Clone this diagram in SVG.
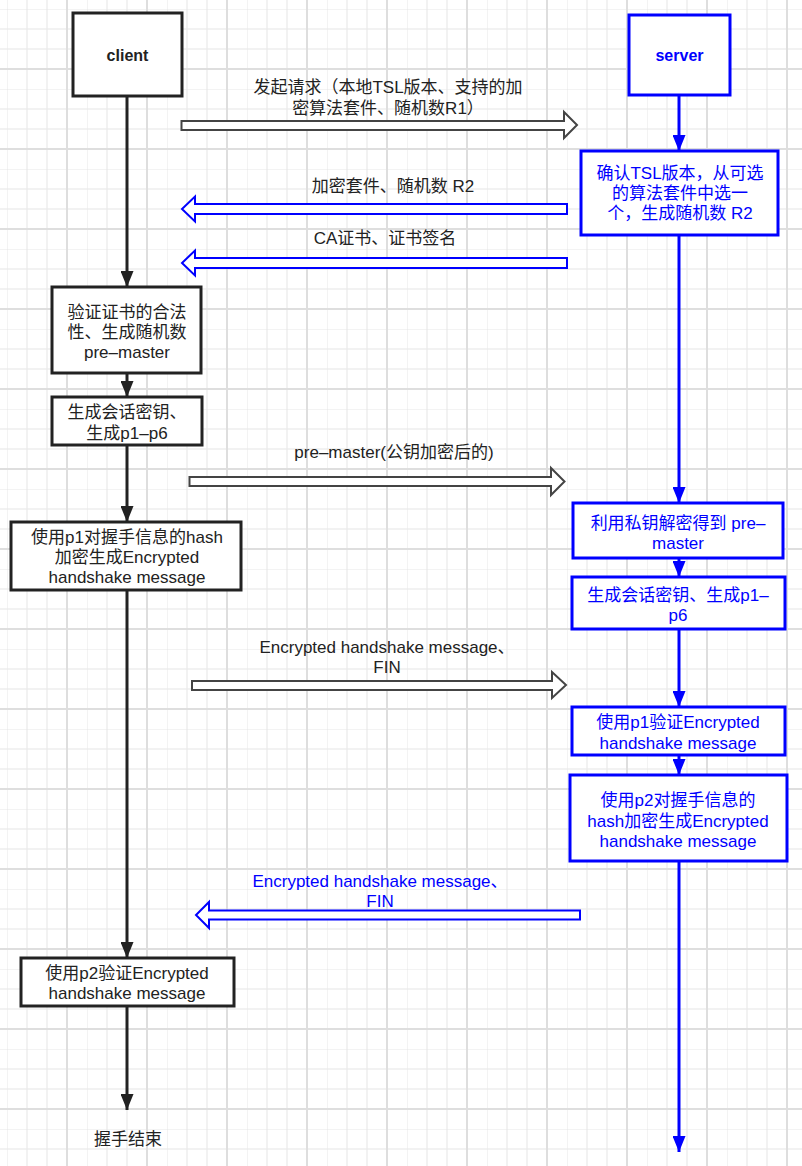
<svg xmlns="http://www.w3.org/2000/svg" width="802" height="1166" viewBox="0 0 802 1166">
<defs>
<pattern id="grid" patternUnits="userSpaceOnUse" x="7" y="9" width="80" height="80">
<rect x="-0.5" y="0" width="1" height="80" fill="#e6e6e6"/>
<rect x="19.5" y="0" width="1" height="80" fill="#e6e6e6"/>
<rect x="39.5" y="0" width="1" height="80" fill="#e6e6e6"/>
<rect x="0" y="-0.5" width="80" height="1" fill="#e6e6e6"/>
<rect x="0" y="19.5" width="80" height="1" fill="#e6e6e6"/>
<rect x="0" y="39.5" width="80" height="1" fill="#e6e6e6"/>
<rect x="59" y="0" width="2" height="80" fill="#dedede"/>
<rect x="0" y="59" width="80" height="2" fill="#dedede"/>
</pattern>
<marker id="ahk" markerUnits="userSpaceOnUse" viewBox="0 0 16 13" markerWidth="16" markerHeight="13" refX="16" refY="6.5" orient="auto">
<path d="M0,0 L16,6.5 L0,13 Z" fill="#222"/>
</marker>
<marker id="ahb" markerUnits="userSpaceOnUse" viewBox="0 0 16 13" markerWidth="16" markerHeight="13" refX="16" refY="6.5" orient="auto">
<path d="M0,0 L16,6.5 L0,13 Z" fill="#0000ff"/>
</marker>
</defs>
<style>
text{font-family:"Liberation Sans","Noto Sans CJK SC",sans-serif;font-size:17px;text-anchor:middle}
.tk{fill:#222}
.tb{fill:#0000ff}
.bold{font-weight:bold;font-size:16px}
.bk{fill:#fff;stroke:#222;stroke-width:3}
.bb{fill:#fff;stroke:#0000ff;stroke-width:3}
.lk{stroke:#222;stroke-width:3;fill:none;marker-end:url(#ahk)}
.lb{stroke:#0000ff;stroke-width:3;fill:none;marker-end:url(#ahb)}
.hk{fill:#fff;stroke:#444;stroke-width:2;stroke-linejoin:miter}
.hb{fill:#fff;stroke:#0000ff;stroke-width:2;stroke-linejoin:miter}
</style>
<rect x="0" y="0" width="802" height="1166" fill="#fff"/>
<rect x="0" y="0" width="802" height="1166" fill="url(#grid)"/>

<g id="connectors">
<line class="lk" x1="127" y1="96" x2="127" y2="287"/>
<line class="lk" x1="127" y1="373" x2="127" y2="397"/>
<line class="lk" x1="127" y1="445" x2="127" y2="522"/>
<line class="lk" x1="127" y1="590" x2="127" y2="958"/>
<line class="lk" x1="127" y1="1006" x2="127" y2="1110"/>
<line class="lb" x1="679" y1="95" x2="679" y2="151"/>
<line class="lb" x1="679" y1="235" x2="679" y2="503"/>
<line class="lb" x1="679" y1="558" x2="679" y2="577"/>
<line class="lb" x1="679" y1="629" x2="679" y2="707"/>
<line class="lb" x1="679" y1="755" x2="679" y2="775"/>
<line class="lb" x1="679" y1="861" x2="679" y2="1152"/>
<path class="hk" d="M181.5,121 L564,121 L564,112 L577,125 L564,138 L564,130 L181.5,130 Z"/>
<path class="hb" d="M567,204 L195,204 L195,196.5 L182,209 L195,221.5 L195,214 L567,214 Z"/>
<path class="hb" d="M567,258 L195,258 L195,250.5 L182,263 L195,275.5 L195,268 L567,268 Z"/>
<path class="hk" d="M189.5,477 L551,477 L551,468 L564.5,481.5 L551,495 L551,486 L189.5,486 Z"/>
<path class="hk" d="M192,681 L552,681 L552,672 L566,685 L552,698 L552,690 L192,690 Z"/>
<path class="hb" d="M580,910.5 L209,910.5 L209,902 L196,915 L209,928 L209,919.5 L580,919.5 Z"/>
<text class="tk" x="388" y="93">发起请求（本地TSL版本、支持的加</text>
<text class="tk" x="388" y="114">密算法套件、随机数R1）</text>
<text class="tk" x="393" y="192">加密套件、随机数 R2</text>
<text class="tk" x="385" y="244">CA证书、证书签名</text>
<text class="tk" x="394" y="458">pre–master(公钥加密后的)</text>
<text class="tk" x="387" y="653">Encrypted handshake message、</text>
<text class="tk" x="387" y="673">FIN</text>
<text class="tb" x="380" y="887">Encrypted handshake message、</text>
<text class="tb" x="380" y="907">FIN</text>
</g>

<g id="client">
<rect class="bk" x="73" y="13" width="109" height="83"/>
<text class="tk bold" x="127.5" y="61">client</text>
</g>
<g id="server">
<rect class="bb" x="629" y="15" width="101" height="80"/>
<text class="tb bold" x="679.5" y="61">server</text>
</g>
<g id="server-confirm">
<rect class="bb" x="581" y="151" width="197" height="84"/>
<text class="tb" x="680" y="179">确认TSL版本，从可选</text>
<text class="tb" x="680" y="199">的算法套件中选一</text>
<text class="tb" x="680" y="219">个，生成随机数 R2</text>
</g>
<g id="client-verify">
<rect class="bk" x="52" y="287" width="149" height="86"/>
<text class="tk" x="127" y="318">验证证书的合法</text>
<text class="tk" x="127" y="338">性、生成随机数</text>
<text class="tk" x="127" y="358">pre–master</text>
</g>
<g id="client-keys">
<rect class="bk" x="52" y="397" width="150" height="48"/>
<text class="tk" x="127" y="418">生成会话密钥、</text>
<text class="tk" x="127" y="439">生成p1–p6</text>
</g>
<g id="client-encrypt">
<rect class="bk" x="11" y="522" width="230" height="68"/>
<text class="tk" x="127" y="543">使用p1对握手信息的hash</text>
<text class="tk" x="127" y="563">加密生成Encrypted</text>
<text class="tk" x="127" y="583">handshake message</text>
</g>
<g id="client-verify2">
<rect class="bk" x="21" y="958" width="213" height="48"/>
<text class="tk" x="127" y="979">使用p2验证Encrypted</text>
<text class="tk" x="127" y="999">handshake message</text>
</g>
<g id="end">
<text class="tk" x="128" y="1145">握手结束</text>
</g>
<g id="server-decrypt">
<rect class="bb" x="573" y="503" width="210" height="55"/>
<text class="tb" x="678" y="529">利用私钥解密得到 pre–</text>
<text class="tb" x="678" y="549">master</text>
</g>
<g id="server-keys">
<rect class="bb" x="572" y="577" width="213" height="52"/>
<text class="tb" x="678" y="601">生成会话密钥、生成p1–</text>
<text class="tb" x="678" y="621">p6</text>
</g>
<g id="server-verify">
<rect class="bb" x="572" y="707" width="213" height="48"/>
<text class="tb" x="678" y="728">使用p1验证Encrypted</text>
<text class="tb" x="678" y="749">handshake message</text>
</g>
<g id="server-encrypt">
<rect class="bb" x="570" y="775" width="217" height="86"/>
<text class="tb" x="678" y="806">使用p2对握手信息的</text>
<text class="tb" x="678" y="827">hash加密生成Encrypted</text>
<text class="tb" x="678" y="847">handshake message</text>
</g>
</svg>
